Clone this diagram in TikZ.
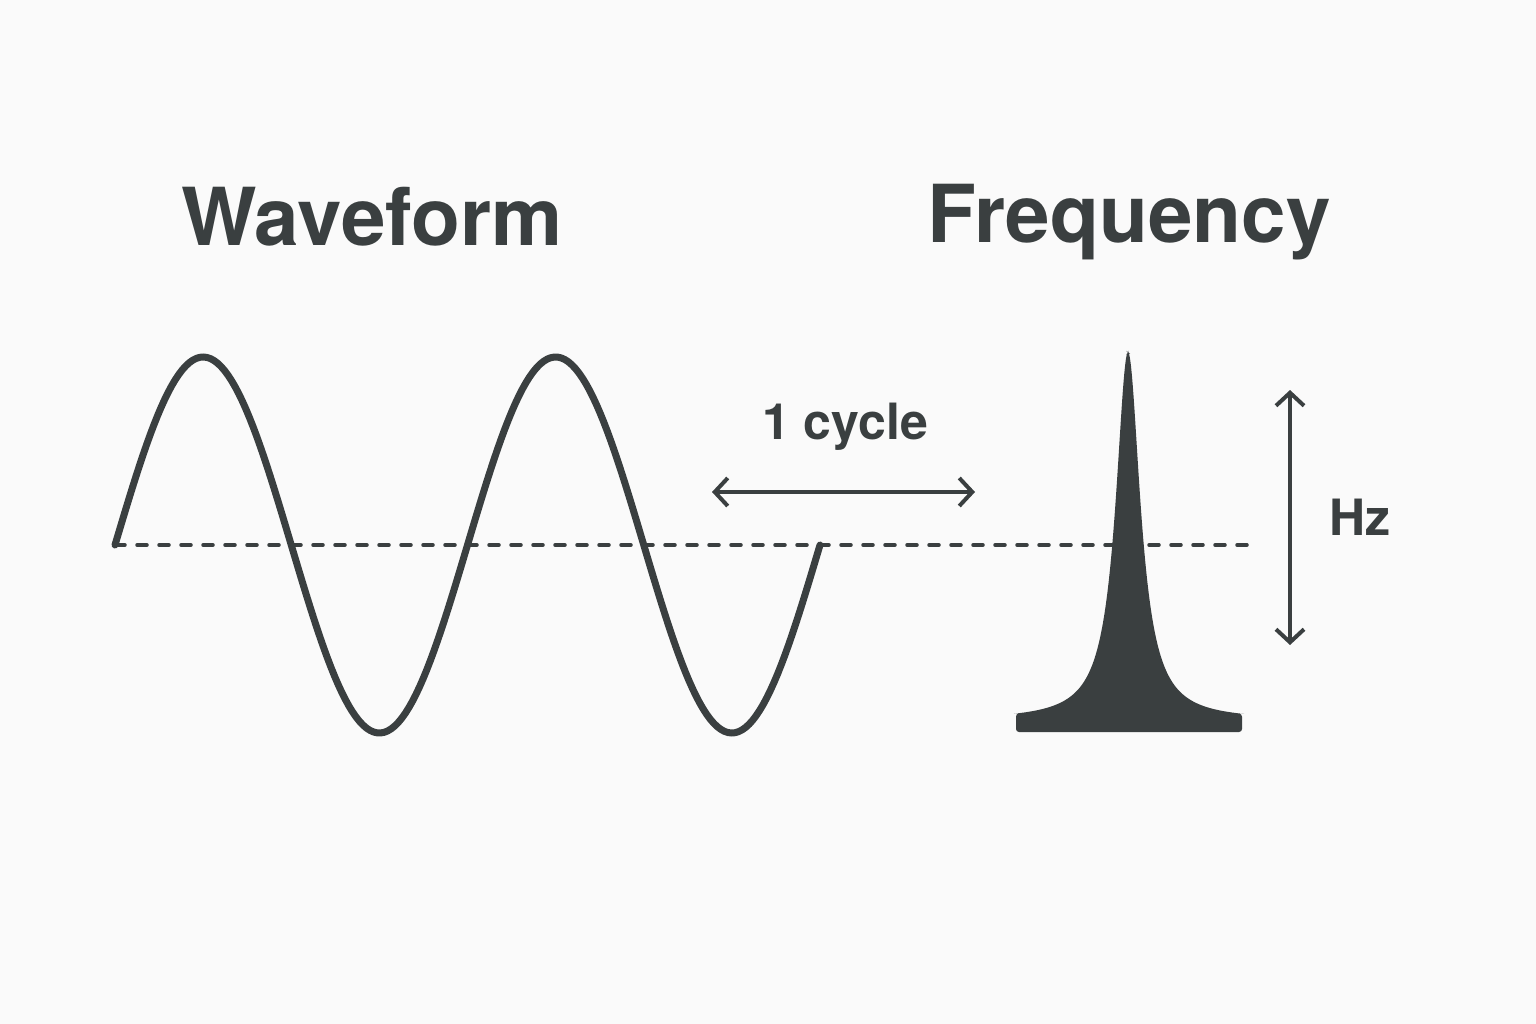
\documentclass[tikz,border=0pt]{standalone}
\usepackage{fontspec}
\setmainfont{TeX Gyre Heros}
\usetikzlibrary{arrows.meta}
\definecolor{ink}{HTML}{3A3F40}
\definecolor{paper}{HTML}{FAFAFA}
\begin{document}
\begin{tikzpicture}[x=1pt,y=-1pt,line cap=round,
                    wave/.style={draw=ink,line width=7pt},
                    axis/.style={draw=ink,line width=3.5pt,dash pattern=on 10pt off 12pt},
                    span/.style={draw=ink,line width=4pt,{Straight Barb[length=13pt,width=28pt]}-{Straight Barb[length=13pt,width=28pt]}},
                    title/.style={text=ink,font=\bfseries\fontsize{80}{86}\selectfont},
                    tag/.style={text=ink,font=\bfseries\fontsize{50}{56}\selectfont}]
  \fill[paper] (0,0) rectangle (1536,1024);
  \useasboundingbox (0,0) rectangle (1536,1024);

  \node[title] (wave) at (372,217) {Waveform};
  \node[title] (freq) at (1129,222) {Frequency};

  \coordinate (base L) at (115,545);
  \coordinate (base R) at (1252,545);
  \draw[axis] (base L) -- (base R);

  \draw[wave] plot[domain=115:820,samples=200] (\x,{545-188*sin((\x-115)/352.5*360)});

  \coordinate (cyc L) at (712,492);
  \coordinate (cyc R) at (975,492);
  \draw[span] (cyc L) -- (cyc R);
  \node[tag] (cycle) at (845,427) {1 cycle};

  \coordinate (hz T) at (1290,390);
  \coordinate (hz B) at (1290,645);
  \draw[span] (hz T) -- (hz B);
  \node[tag] (hz) at (1360,517) {Hz};

  \fill[ink,rounded corners=3pt] (1016,732) --
    plot[domain=1016:1242,samples=300] (\x,{720-368/(1+((\x-1128)/15)^2)}) --
    (1242,732) -- cycle;
\end{tikzpicture}
\end{document}
